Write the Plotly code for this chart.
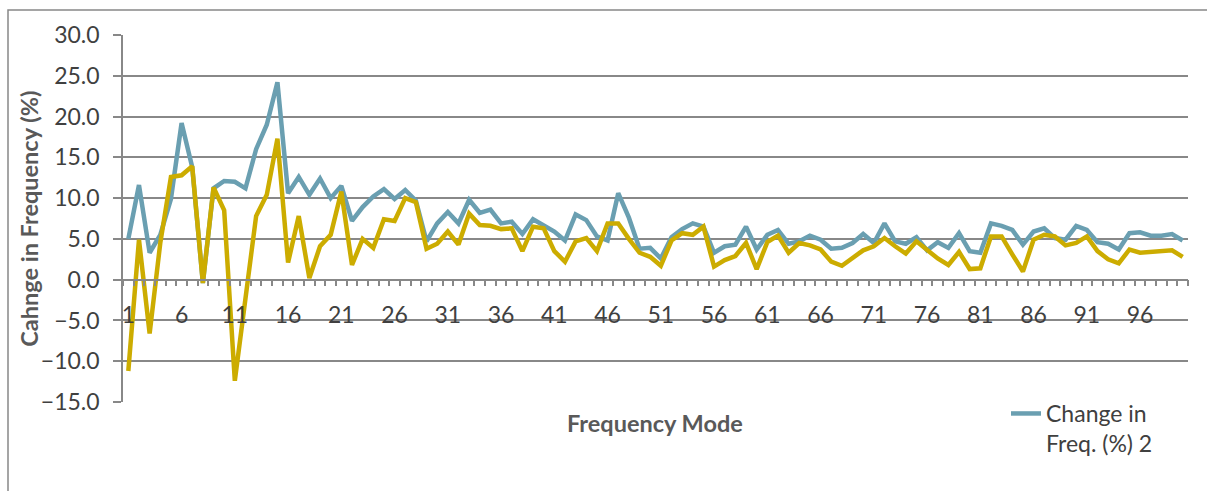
import plotly.graph_objects as go

modes = list(range(1, 101))

freq_change_2 = [
    5.0, 11.6, 3.3, 5.5, 9.9, 19.2, 13.8, -0.4, 11.2, 12.1,
    12.0, 11.2, 16.0, 19.0, 24.2, 10.6, 12.6, 10.4, 12.4, 10.0,
    11.5, 7.2, 8.9, 10.2, 11.1, 9.9, 11.0, 9.7, 4.7, 6.9,
    8.3, 6.9, 9.8, 8.2, 8.6, 6.9, 7.1, 5.6, 7.4, 6.6,
    5.9, 4.8, 8.0, 7.3, 5.3, 4.8, 10.6, 7.6, 3.8, 3.9,
    2.6, 5.2, 6.2, 6.9, 6.5, 3.3, 4.1, 4.3, 6.5, 3.7,
    5.5, 6.1, 4.4, 4.7, 5.4, 4.9, 3.8, 3.9, 4.5, 5.6,
    4.5, 6.9, 4.7, 4.4, 5.2, 3.6, 4.6, 3.9, 5.7, 3.5,
    3.3, 6.9, 6.6, 6.1, 4.3, 5.9, 6.3, 5.1, 4.9, 6.6,
    6.1, 4.6, 4.4, 3.7, 5.7, 5.8, 5.4, 5.4, 5.6, 4.8,
]

freq_change_1 = [
    -11.2, 4.9, -6.6, 4.5, 12.6, 12.8, 13.9, -0.4, 11.3, 8.5,
    -12.4, -2.0, 7.8, 10.4, 17.3, 2.1, 7.8, 0.2, 4.1, 5.5,
    10.8, 1.8, 5.0, 3.9, 7.4, 7.2, 10.0, 9.5, 3.8, 4.4,
    5.9, 4.3, 8.1, 6.7, 6.6, 6.2, 6.3, 3.5, 6.5, 6.3,
    3.5, 2.2, 4.7, 5.1, 3.5, 6.9, 6.9, 5.0, 3.3, 2.8,
    1.7, 4.8, 5.7, 5.5, 6.5, 1.6, 2.4, 2.9, 4.5, 1.3,
    4.6, 5.4, 3.3, 4.5, 4.2, 3.7, 2.2, 1.7, 2.7, 3.6,
    4.1, 5.1, 4.1, 3.2, 4.7, 3.6, 2.6, 1.8, 3.4, 1.3,
    1.4, 5.3, 5.3, 3.1, 1.0, 4.9, 5.5, 5.3, 4.2, 4.5,
    5.3, 3.5, 2.5, 2.0, 3.7, 3.3, 3.4, 3.4, 3.6, 2.8,
]

x_tick_vals = list(range(1, 101, 5))
y_tick_vals = [-15, -10, -5, 0, 5, 10, 15, 20, 25, 30]

BLUE = "#6a9fb1"
YELLOW = "#ccac00"
GRID = "#888888"
TEXT = "#404040"
TITLE = "#595959"
FONT = "Lato, 'Open Sans', sans-serif"

fig = go.Figure()
fig.add_trace(go.Scatter(
    x=modes, y=freq_change_2, mode="lines",
    name="Change in<br>Freq. (%) 2",
    line=dict(color=BLUE, width=4.5),
))
fig.add_trace(go.Scatter(
    x=modes, y=freq_change_1, mode="lines",
    name="Change in Freq. (%) 1", showlegend=False,
    line=dict(color=YELLOW, width=4.5),
))

W, H = 1207, 491
L, R, T, B = 123, 19, 35, 88.5
pw, ph = W - L - R, H - T - B

def px_x(px):
    return (px - L) / pw

def px_y(py):
    return (H - B - py) / ph

fig.update_layout(
    width=W, height=H,
    margin=dict(l=L, r=R, t=T, b=B),
    paper_bgcolor="white", plot_bgcolor="white",
    font=dict(family=FONT, size=23, color=TEXT),
    legend=dict(
        x=px_x(1006), y=px_y(392.5), xanchor="left", yanchor="top",
        font=dict(size=23, color=TEXT), valign="top",
        bgcolor="rgba(0,0,0,0)", tracegroupgap=0,
    ),
    xaxis=dict(
        range=[0.5, 100.5],
        anchor="free", position=15 / 45,
        tickmode="array", tickvals=x_tick_vals,
        ticktext=[str(v) for v in x_tick_vals],
        ticks="", showgrid=False, zeroline=False,
        showline=True, linecolor=GRID, linewidth=1.5,
        tickfont=dict(size=23, color=TEXT),
        ticklabelstandoff=15,
        minor=dict(
            tickmode="array", tickvals=[k + 0.5 for k in range(0, 101)],
            ticks="outside", ticklen=6, tickcolor=GRID, tickwidth=1.5,
            showgrid=False,
        ),
    ),
    yaxis=dict(
        range=[-15, 30], tickmode="array", tickvals=y_tick_vals,
        tickformat=".1f", showgrid=True, gridcolor=GRID, gridwidth=1.5,
        zeroline=False, showline=True, linecolor=GRID, linewidth=1.5,
        ticks="outside", ticklen=8, tickcolor=GRID, tickwidth=1.5,
        tickfont=dict(size=23, color=TEXT), ticklabelstandoff=9,
    ),
    annotations=[
        dict(text="<b>Cahnge in Frequency (%)</b>", textangle=-90,
             xref="paper", yref="paper", x=px_x(29), y=px_y(219),
             xanchor="center", yanchor="middle", showarrow=False,
             font=dict(size=23.5, color=TITLE)),
        dict(text="<b>Frequency Mode</b>",
             xref="paper", yref="paper", x=px_x(655), y=px_y(424),
             xanchor="center", yanchor="middle", showarrow=False,
             font=dict(size=23.5, color=TITLE)),
    ],
    shapes=[
        dict(type="rect", xref="paper", yref="paper",
             x0=px_x(8), x1=px_x(1230), y0=px_y(10), y1=px_y(520),
             line=dict(color=GRID, width=1.5), layer="below"),
    ],
)

fig.write_html("out.html")
